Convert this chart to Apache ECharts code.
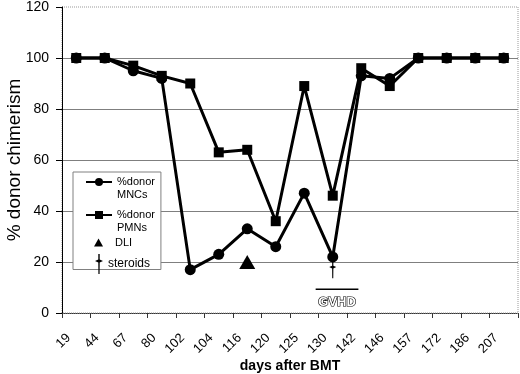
<!DOCTYPE html>
<html>
<head>
<meta charset="utf-8">
<script src="https://cdn.jsdelivr.net/npm/echarts@6/dist/echarts.min.js"></script>
<style>
  html, body { margin: 0; padding: 0; background: #fff; }
  #chart { width: 520px; height: 374px; }
</style>
</head>
<body>
<div id="chart"></div>
<script>
// days after BMT (category axis)
const days = ['19', '44', '67', '80', '102', '104', '116', '120', '125', '130', '142', '146', '157', '172', '186', '207'];
const mncValues = [100, 100, 95, 92, 17, 23, 33, 26, 47, 22, 93, 92, 100, 100, 100, 100];
const pmnValues = [100, 100, 97, 93, 90, 63, 64, 36, 89, 46, 96, 89, 100, 100, 100, 100];
const dliPoint = [['116', 20]];
const steroidPoint = [['130', 17]];
// GVHD bar on a hidden 0..16 value axis laid over the categories
const gvhdBar = [[8.9, 9.3], [10.4, 9.3]];
const gvhdLabel = [[9.65, 4.3]];
const yTicks = [0, 20, 40, 60, 80, 100, 120];

const FONT = 'Arial, "Liberation Sans", sans-serif';
const steroidIcon = 'path://M3.3 0 L4.7 0 L4.7 5.5 L8 7 L4.7 8.5 L4.6 20 L3.4 20 L3.3 8.5 L0 7 L3.3 5.5 Z';

const chart = echarts.init(document.getElementById('chart'));

// two-line legend text: an empty first line keeps "%donor" level with the icon
const twoLine = name => ' \n' + name.replace(' ', '\n');
const twoLineText = { fontFamily: FONT, fontSize: 11, color: '#000', lineHeight: 13 };

chart.setOption({
  animation: false,
  textStyle: { fontFamily: FONT, color: '#000' },
  grid: {
    left: 62, right: 2, top: 7, bottom: 61,
    outerBoundsMode: 'none',
    show: true,
    borderColor: '#999',
    borderWidth: 1,
    borderType: 'dotted'
  },
  legend: [
    {
      data: ['%donor MNCs'],
      left: 73, top: 172,
      orient: 'vertical',
      padding: [-9.5, 6, 68, 12],
      itemWidth: 26, itemHeight: 10,
      backgroundColor: '#fff',
      borderColor: '#808080',
      borderWidth: 1,
      selectedMode: false,
      formatter: twoLine,
      textStyle: twoLineText
    },
    {
      data: ['%donor PMNs'],
      left: 85, top: 195.5,
      orient: 'vertical',
      padding: 0,
      itemWidth: 26, itemHeight: 10,
      selectedMode: false,
      formatter: twoLine,
      textStyle: twoLineText
    },
    {
      data: [{ name: 'DLI', icon: 'triangle' }],
      left: 94, top: 237,
      padding: 0,
      itemWidth: 9, itemHeight: 8,
      selectedMode: false,
      textStyle: { fontFamily: FONT, fontSize: 11, color: '#000', padding: [0, 0, 0, 7] }
    },
    {
      data: [{ name: 'steroids', icon: steroidIcon }],
      left: 95, top: 254,
      padding: 0,
      itemWidth: 8, itemHeight: 20,
      selectedMode: false,
      textStyle: { fontFamily: FONT, fontSize: 12, color: '#000' }
    }
  ],
  xAxis: [
    {
      type: 'category',
      data: days,
      boundaryGap: true,
      name: 'days after BMT',
      nameLocation: 'middle',
      nameGap: 46,
      nameMoveOverlap: false,
      nameTextStyle: { fontFamily: FONT, fontSize: 14, fontWeight: 'bold', color: '#000' },
      axisLine: { lineStyle: { color: '#333', type: 'dotted', width: 1 } },
      axisTick: { show: true, length: 5, interval: 0, lineStyle: { color: '#333' } },
      axisLabel: {
        interval: 0,
        rotate: 45,
        margin: 15,
        padding: [0, 11, 0, 0],
        fontFamily: FONT,
        fontSize: 13,
        color: '#000'
      },
      splitLine: { show: false }
    },
    {
      type: 'value',
      min: 0, max: 16,
      show: false,
      position: 'bottom'
    }
  ],
  yAxis: {
    type: 'value',
    min: yTicks[0],
    max: yTicks[yTicks.length - 1],
    interval: 20,
    name: '% donor chimerism',
    nameLocation: 'middle',
    nameGap: 38,
    nameMoveOverlap: false,
    nameTextStyle: { fontFamily: FONT, fontSize: 19, color: '#000' },
    axisLine: { show: true, lineStyle: { color: '#000', width: 1 } },
    axisTick: { show: true, length: 6, lineStyle: { color: '#000' } },
    axisLabel: { margin: 13, fontFamily: FONT, fontSize: 14, color: '#000' },
    splitLine: {
      show: true,
      lineStyle: {
        color: ['transparent', '#7f7f7f', '#7f7f7f', '#7f7f7f', '#7f7f7f', '#7f7f7f', 'transparent'],
        width: 1
      }
    }
  },
  series: [
    {
      name: '%donor PMNs',
      type: 'line',
      data: pmnValues,
      symbol: 'rect',
      symbolSize: 10,
      lineStyle: { color: '#000', width: 3 },
      itemStyle: { color: '#000' },
      z: 2
    },
    {
      name: '%donor MNCs',
      type: 'line',
      data: mncValues,
      symbol: 'circle',
      symbolSize: 11,
      lineStyle: { color: '#000', width: 3 },
      itemStyle: { color: '#000' },
      z: 3
    },
    {
      name: 'DLI',
      type: 'scatter',
      data: dliPoint,
      symbol: 'triangle',
      symbolSize: [16, 14],
      itemStyle: { color: '#000', opacity: 1 },
      z: 4
    },
    {
      name: 'steroids',
      type: 'scatter',
      data: steroidPoint,
      symbol: steroidIcon,
      symbolSize: [7, 17],
      itemStyle: { color: '#000', opacity: 1 },
      z: 4
    },
    {
      name: 'GVHD',
      type: 'line',
      xAxisIndex: 1,
      data: gvhdBar,
      symbol: 'none',
      lineStyle: { color: '#000', width: 1.5 },
      z: 2
    },
    {
      name: 'GVHD label',
      type: 'scatter',
      xAxisIndex: 1,
      data: gvhdLabel,
      symbol: 'circle',
      symbolSize: 0,
      itemStyle: { color: '#fff', opacity: 0 },
      label: {
        show: true,
        position: [0, 0],
        align: 'center',
        verticalAlign: 'middle',
        formatter: 'GVHD',
        fontFamily: FONT,
        fontSize: 13,
        fontWeight: 'bold',
        color: '#fff',
        opacity: 1,
        textBorderColor: '#000',
        textBorderWidth: 1.2
      },
      z: 2
    }
  ]
});
</script>
</body>
</html>
